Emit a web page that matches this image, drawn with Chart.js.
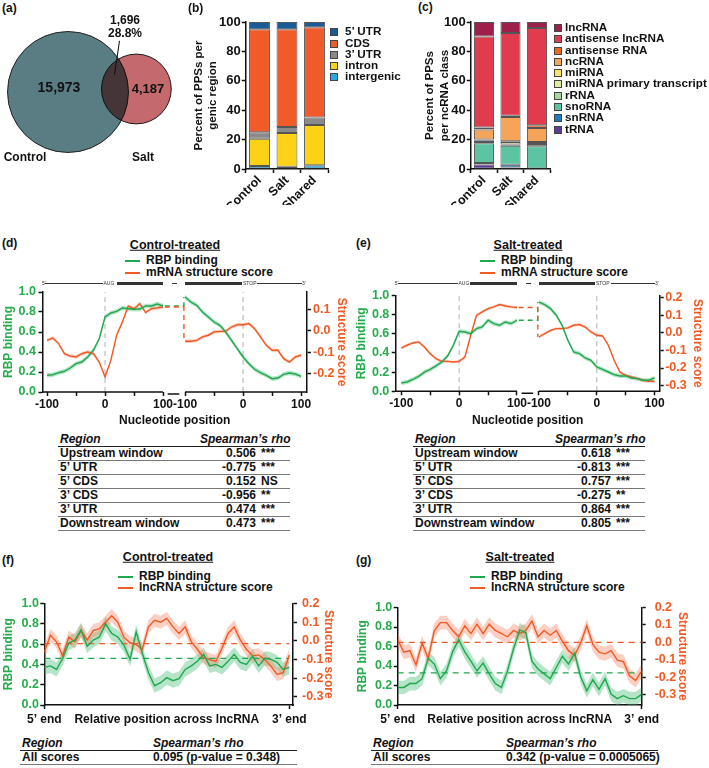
<!DOCTYPE html>
<html>

<head>
    <meta charset="UTF-8">
    <title>RBP binding and RNA structure</title>
    <style>
        body {
            margin: 0;
            background: #fff;
        }

        #page {
            position: relative;
            width: 709px;
            height: 768px;
            overflow: hidden;
            font-family: 'Liberation Sans', Arial, sans-serif;
            font-weight: bold;
            color: #111;
        }

        canvas {
            position: absolute;
        }

        .t {
            position: absolute;
            white-space: nowrap;
            line-height: 1;
        }

        .letter {
            font-size: 12px;
        }

        .ptitle {
            font-size: 12.5px;
            text-decoration: underline;
            transform: translate(-50%, -50%);
        }

        .leg {
            position: absolute;
            font-size: 12px;
            white-space: nowrap;
        }

        .leg i {
            display: inline-block;
            width: 15px;
            height: 2px;
            vertical-align: middle;
            margin-right: 6px;
        }

        .sq {
            position: absolute;
            font-size: 11.7px;
            white-space: nowrap;
        }

        .sq i {
            display: inline-block;
            width: 6px;
            height: 6px;
            vertical-align: middle;
            outline: 0.5px solid #444;
        }

        table.st {
            position: absolute;
            border-collapse: collapse;
            font-size: 12px;
            table-layout: fixed;
        }

        table.st th {
            font-style: italic;
            text-align: left;
            height: 13px;
            line-height: 13px;
            padding: 0 2px;
            border-bottom: 1.5px solid #222;
            white-space: nowrap;
        }

        table.st td {
            height: 13px;
            line-height: 13px;
            padding: 0 2px;
            border-bottom: 1px solid #777;
            white-space: nowrap;
        }

        .gene {
            position: absolute;
            background: #333;
        }

        .gtxt {
            position: absolute;
            font-size: 5px;
            line-height: 5px;
            font-weight: normal;
            color: #333;
        }
    </style>
</head>

<body>
    <div id="page">
        <!-- (a) -->
        <div class="t letter" style="left:2px; top:2px">(a)</div>
        <canvas id="venn" width="180" height="175" style="left:0; top:0"></canvas>
        <div class="t" id="vennCtrl" style="left:59px; top:87px; font-size:14px; transform:translate(-50%,-50%)"></div>
        <div class="t" id="vennSalt" style="left:148px; top:88px; font-size:13px; transform:translate(-50%,-50%)"></div>
        <div class="t" id="vennShared" style="left:125px; top:14px; font-size:12px; line-height:13px; text-align:center; transform:translateX(-50%)"></div>
        <div style="position:absolute; left:120px; top:41px; width:34px; height:1.4px; background:#111; transform-origin:0 0; transform:rotate(98.5deg)"></div>
        <div class="t" id="vennName0" style="left:25px; top:157px; font-size:12px; transform:translate(-50%,-50%)"></div>
        <div class="t" id="vennName1" style="left:143px; top:157px; font-size:12px; transform:translate(-50%,-50%)"></div>

        <!-- (b) -->
        <div class="t letter" style="left:188px; top:2px">(b)</div>
        <canvas id="barB" width="152" height="205" style="left:180px; top:0"></canvas>
        <div class="sq" id="legB" style="left:331px; top:25.4px; line-height:11.2px"></div>

        <!-- (c) -->
        <div class="t letter" style="left:418px; top:1px">(c)</div>
        <canvas id="barC" width="143" height="205" style="left:412px; top:0"></canvas>
        <div class="sq" id="legC" style="left:555px; top:21px; line-height:11.3px"></div>

        <!-- (d) -->
        <div class="t letter" style="left:2px; top:237px">(d)</div>
        <div class="t ptitle" style="left:175px; top:245px">Control-treated</div>
        <div class="leg" style="left:125px; top:254px; line-height:12px">
            <div><i style="background:#1fa84d"></i>RBP binding</div>
            <div><i style="background:#f15a24"></i>mRNA structure score</div>
        </div>
        <canvas id="metaD" width="355" height="152" style="left:0; top:280px"></canvas>

        <!-- (e) -->
        <div class="t letter" style="left:356px; top:237px">(e)</div>
        <div class="t ptitle" style="left:528px; top:245px">Salt-treated</div>
        <div class="leg" style="left:480px; top:254px; line-height:12px">
            <div><i style="background:#1fa84d"></i>RBP binding</div>
            <div><i style="background:#f15a24"></i>mRNA structure score</div>
        </div>
        <canvas id="metaE" width="354" height="152" style="left:355px; top:280px"></canvas>

        <table class="st" id="tabD" style="left:58px; top:433px; width:232px"></table>
        <table class="st" id="tabE" style="left:413px; top:433px; width:232px"></table>

        <!-- (f) -->
        <div class="t letter" style="left:2px; top:554px">(f)</div>
        <div class="t ptitle" style="left:168px; top:557px">Control-treated</div>
        <div class="leg" style="left:118px; top:571px; line-height:11px">
            <div><i style="background:#1fa84d"></i>RBP binding</div>
            <div><i style="background:#f15a24"></i>lncRNA structure score</div>
        </div>
        <canvas id="lncF" width="340" height="139" style="left:0; top:591px"></canvas>
        <table class="st" id="tabF" style="left:20px; top:737px; width:277px"></table>

        <!-- (g) -->
        <div class="t letter" style="left:356px; top:554px">(g)</div>
        <div class="t ptitle" style="left:520px; top:557px">Salt-treated</div>
        <div class="leg" style="left:470px; top:571px; line-height:11px">
            <div><i style="background:#1fa84d"></i>RBP binding</div>
            <div><i style="background:#f15a24"></i>lncRNA structure score</div>
        </div>
        <canvas id="lncG" width="340" height="139" style="left:355px; top:591px"></canvas>
        <table class="st" id="tabG" style="left:371px; top:737px; width:287px"></table>
    </div>

    <script src="https://cdn.jsdelivr.net/npm/chart.js"></script>
    <script>
        // (a) Venn counts
        const vennSets = ['Control', 'Salt'];
        const vennUnique = [15973, 4187];
        const vennShared = 1696;
        const vennSharedPct = '28.8%';

        // (b) PPSs per genic region (percent)
        const groups = ['Control', 'Salt', 'Shared'];
        const utr5 = [5, 5, 3.5];
        const cds = [70, 66.5, 61.5];
        const utr3 = [4.5, 4, 5];
        const intron = [18.5, 23, 27.5];
        const intergenic = [2, 1.5, 2.5];

        // (c) PPSs per ncRNA class (percent)
        const lncRNA = [9.8, 7.5, 4.1];
        const antisenseLnc = [61.9, 56.2, 66.2];
        const antisenseRNA = [1.5, 0.9, 1.8];
        const ncRNA = [6.8, 16.6, 9.5];
        const miRNA = [0.7, 0.5, 0.7];
        const miRNAprimary = [1.0, 1.7, 0.7];
        const rRNA = [0.8, 0.7, 1.6];
        const snoRNA = [13.5, 13.0, 15.4];
        const snRNA = [1.0, 1.8, 0];
        const tRNA = [3.0, 1.1, 0];

        // (d)(e) metagene around start codon / stop codon
        const nt = [-100, -90, -80, -70, -60, -50, -40, -30, -20, -10, 0, 10, 20, 30, 40, 50, 60, 70, 80, 90, 100];
        const ctrlRbpStart = [0.167, 0.173, 0.193, 0.207, 0.24, 0.283, 0.30, 0.35, 0.417, 0.533, 0.75, 0.79, 0.807, 0.84, 0.833, 0.827, 0.83, 0.86, 0.86, 0.88, 0.86];
        const ctrlStructStart = [-0.045, -0.034, -0.06, -0.107, -0.118, -0.122, -0.107, -0.099, -0.107, -0.146, -0.215, -0.138, -0.021, 0.041, 0.115, 0.102, 0.126, 0.084, 0.102, 0.106, 0.11];
        const ctrlRbpStop = [0.95, 0.90, 0.867, 0.80, 0.75, 0.70, 0.667, 0.60, 0.517, 0.433, 0.35, 0.283, 0.227, 0.193, 0.167, 0.133, 0.14, 0.177, 0.19, 0.18, 0.157];
        const ctrlStructStop = [-0.049, -0.049, -0.045, -0.029, -0.021, -0.006, -0.003, -0.003, 0.017, 0.028, 0.028, 0.033, 0.009, -0.029, -0.068, -0.091, -0.091, -0.13, -0.146, -0.122, -0.114];
        const saltRbpStart = [0.087, 0.097, 0.125, 0.156, 0.20, 0.229, 0.264, 0.306, 0.368, 0.479, 0.625, 0.618, 0.60, 0.653, 0.67, 0.74, 0.705, 0.688, 0.722, 0.705, 0.74];
        const saltStructStart = [-0.086, -0.07, -0.057, -0.051, -0.08, -0.118, -0.147, -0.162, -0.162, -0.166, -0.162, -0.137, -0.013, 0.10, 0.12, 0.139, 0.149, 0.162, 0.154, 0.149, 0.145];
        const saltRbpStop = [0.93, 0.903, 0.861, 0.792, 0.688, 0.531, 0.41, 0.392, 0.347, 0.323, 0.253, 0.229, 0.201, 0.174, 0.16, 0.16, 0.139, 0.132, 0.115, 0.115, 0.139];
        const saltStructStop = [-0.023, -0.004, 0.015, 0.025, 0.025, 0.029, 0.044, 0.048, 0.034, 0.006, -0.013, -0.017, -0.07, -0.156, -0.223, -0.242, -0.251, -0.261, -0.27, -0.276, -0.276];

        // (f)(g) lncRNA profiles along relative position
        const lncPos = [0, 0.025, 0.05, 0.075, 0.1, 0.125, 0.15, 0.175, 0.2, 0.225, 0.25, 0.275, 0.3, 0.325, 0.35, 0.375, 0.4, 0.425, 0.45, 0.475, 0.5,
            0.525, 0.55, 0.575, 0.6, 0.625, 0.65, 0.675, 0.7, 0.725, 0.75, 0.775, 0.8, 0.825, 0.85, 0.875, 0.9, 0.925, 0.95, 0.975, 1];
        const ctrlLncRbp = [0.37, 0.385, 0.35, 0.46, 0.61, 0.64, 0.74, 0.58, 0.64, 0.67, 0.80, 0.705, 0.67, 0.59, 0.45, 0.72, 0.51, 0.32, 0.19, 0.22, 0.27,
            0.24, 0.26, 0.35, 0.385, 0.43, 0.50, 0.385, 0.40, 0.37, 0.43, 0.50, 0.42, 0.40, 0.48, 0.385, 0.46, 0.45, 0.42, 0.35, 0.37];
        const ctrlLncStruct = [-0.06, 0.03, -0.005, -0.08, 0.02, -0.005, 0.055, 0.005, 0.055, 0.065, 0.10, 0.135, 0.10, 0.02, -0.01, -0.02, -0.045, 0.075, 0.11, 0.10, 0.12,
            0.075, 0.04, 0.075, -0.005, -0.045, -0.09, -0.10, -0.11, -0.04, 0.04, 0.075, 0.005, -0.045, -0.08, -0.075, -0.10, -0.135, -0.18, -0.17, -0.075];
        const saltLncRbp = [0.18, 0.18, 0.22, 0.22, 0.27, 0.48, 0.42, 0.27, 0.35, 0.545, 0.67, 0.545, 0.45, 0.35, 0.43, 0.32, 0.22, 0.18, 0.35, 0.58, 0.77,
            0.74, 0.45, 0.37, 0.32, 0.27, 0.385, 0.50, 0.42, 0.53, 0.29, 0.145, 0.26, 0.16, 0.27, 0.11, 0.065, 0.095, 0.065, 0.065, 0.11];
        const saltLncStruct = [0.015, -0.057, -0.048, -0.13, -0.004, -0.093, 0.068, 0.113, 0.113, 0.068, 0.032, 0.095, 0.05, 0.104, 0.05, 0.104, 0.068, 0.05, 0.032, 0.068, 0.05,
            0.068, 0.122, 0.032, 0.068, 0.041, 0.068, 0.005, -0.048, -0.075, -0.004, 0.095, -0.013, -0.057, -0.066, -0.048, -0.102, -0.111, -0.192, -0.219, -0.165];
        const lncRbpMean = [0.46, 0.33];
        const lncStructMean = [-0.015, 0.0];
        const lncTicks = ['5’ end', 'Relative position across lncRNA', '3’ end'];

        // correlation tables
        const tableRegions = ['Upstream window', '5’ UTR', '5’ CDS', '3’ CDS', '3’ UTR', 'Downstream window'];
        const rhoCtrl = [0.506, -0.775, 0.152, -0.956, 0.474, 0.473];
        const sigCtrl = ['***', '***', 'NS', '**', '***', '***'];
        const rhoSalt = [0.618, -0.813, 0.757, -0.275, 0.864, 0.805];
        const sigSalt = ['***', '***', '***', '**', '***', '***'];
        const lncRho = [0.095, 0.342];
        const lncP = ['0.348', '0.0005065'];

        const G = '#1fa84d', GT = '#25ad4c', O = '#f15a24';
        const gBand = 'rgba(60,185,110,0.38)', oBand = 'rgba(246,130,95,0.38)';

        Chart.defaults.font.family = "'Liberation Sans', Arial, sans-serif";
        Chart.defaults.font.weight = 'bold';
        Chart.defaults.color = '#111';

        const fmt1 = v => (Math.round(v * 10) / 10 + 0).toFixed(1);
        const axisLine = { color: '#111', width: 1.5 };
        const tickGrid = { drawOnChartArea: false, tickLength: 4, tickWidth: 1.5, tickColor: '#111' };

        // ---------- (a) Venn as two bubbles ----------
        const rK = 0.455;
        const rCtrl = rK * Math.sqrt(vennUnique[0] + vennShared);
        const rSalt = rK * Math.sqrt(vennUnique[1] + vennShared);
        // bubble charts pad the plot by the largest radius (+ border); undo that so values are canvas pixels
        const vennPad = rCtrl + 1;
        const multiplyOverlap = {
            id: 'multiplyOverlap',
            beforeDatasetDraw(chart, args) {
                if (args.index === 1) { chart.ctx.save(); chart.ctx.globalCompositeOperation = 'multiply'; }
            },
            afterDatasetDraw(chart, args) {
                if (args.index === 1) chart.ctx.restore();
            }
        };
        new Chart(document.getElementById('venn'), {
            type: 'bubble',
            data: {
                datasets: [
                    { label: vennSets[0], data: [{ x: 68, y: 92, r: rCtrl }], backgroundColor: '#5a7c83', borderColor: '#222', borderWidth: 1, hoverRadius: 0, order: 2, clip: false },
                    { label: vennSets[1], data: [{ x: 68 + rCtrl + rSalt - 27, y: 89, r: rSalt }], backgroundColor: '#c46a6c', borderColor: '#222', borderWidth: 1, hoverRadius: 0, order: 1, clip: false }
                ]
            },
            options: {
                responsive: false, animation: false, events: [],
                layout: { padding: 0 },
                plugins: { legend: { display: false }, tooltip: { enabled: false } },
                scales: {
                    x: { display: false, min: vennPad, max: 180 - vennPad },
                    y: { display: false, min: vennPad, max: 175 - vennPad, reverse: true }
                }
            },
            plugins: [multiplyOverlap]
        });
        document.getElementById('vennCtrl').textContent = vennUnique[0].toLocaleString('en-US');
        document.getElementById('vennSalt').textContent = vennUnique[1].toLocaleString('en-US');
        document.getElementById('vennShared').innerHTML = vennShared.toLocaleString('en-US') + '<br>' + vennSharedPct;
        document.getElementById('vennName0').textContent = vennSets[0];
        document.getElementById('vennName1').textContent = vennSets[1];

        // ---------- (b)(c) stacked bars ----------
        function stackedOptions(yTitle, leftW, padRight, titlePad) {
            return {
                responsive: false, animation: false, events: [],
                layout: { padding: { top: 22, right: padRight, left: 0, bottom: 0 } },
                datasets: { bar: { categoryPercentage: 1, barPercentage: 0.76, borderColor: '#555', borderWidth: 1, borderSkipped: false } },
                plugins: { legend: { display: false }, tooltip: { enabled: false } },
                scales: {
                    x: {
                        stacked: true, border: axisLine,
                        grid: Object.assign({ offset: true }, tickGrid),
                        ticks: { minRotation: 45, maxRotation: 45, padding: 0, font: { size: 12.5, weight: 'bold' } },
                        afterFit: s => { s.height = 36; }
                    },
                    y: {
                        stacked: true, min: 0, max: 100, border: axisLine, grid: tickGrid,
                        ticks: { stepSize: 20, padding: 1, font: { size: 13, weight: 'bold' } },
                        title: { display: true, text: yTitle, font: { size: 11.5, weight: 'bold', lineHeight: 1.25 }, padding: { top: titlePad, bottom: 0 } },
                        afterFit: s => { s.width = leftW; }
                    }
                }
            };
        }

        const regionSets = [
            ['5’ UTR', utr5, '#1b5b98'],
            ['CDS', cds, '#f15a29'],
            ['3’ UTR', utr3, '#8a8a8a'],
            ['intron', intron, '#fcd116'],
            ['intergenic', intergenic, '#27aae1']
        ];
        new Chart(document.getElementById('barB'), {
            type: 'bar',
            data: {
                labels: groups,
                datasets: regionSets.slice().reverse().map(([label, data, color]) => ({ label, data, backgroundColor: color }))
            },
            options: stackedOptions(['Percent of PPSs per', 'genic region'], 65.75, 3.75, 11.5)
        });

        const ncSets = [
            ['lncRNA', lncRNA, '#9e1f4a'],
            ['antisense lncRNA', antisenseLnc, '#e03c4d'],
            ['antisense RNA', antisenseRNA, '#f26522'],
            ['ncRNA', ncRNA, '#f7a45b'],
            ['miRNA', miRNA, '#fde36b'],
            ['miRNA primary transcript', miRNAprimary, '#e3eaa0'],
            ['rRNA', rRNA, '#a7d59b'],
            ['snoRNA', snoRNA, '#5cc4a2'],
            ['snRNA', snRNA, '#1d7ac8'],
            ['tRNA', tRNA, '#5d3c9c']
        ];
        new Chart(document.getElementById('barC'), {
            type: 'bar',
            data: {
                labels: groups,
                datasets: ncSets.slice().reverse().map(([label, data, color]) => ({ label, data, backgroundColor: color }))
            },
            options: stackedOptions(['Percent of PPSs', 'per ncRNA class'], 58.75, 4.75, 10.8)
        });

        function squareLegend(id, sets, gap) {
            document.getElementById(id).innerHTML = sets.map(([label, , color]) =>
                `<div><i style="background:${color}; margin-right:${gap}px"></i>${label}</div>`).join('');
        }
        squareLegend('legB', regionSets, 8);
        squareLegend('legC', ncSets, 4);

        // ---------- shared line helpers ----------
        function pts(xs, ys, dx, d) {
            return xs.map((x, i) => ({ x: x + dx, y: ys[i] + d }));
        }
        function lineDs(data, color, axis, extra) {
            return Object.assign({ data, borderColor: color, backgroundColor: color, borderWidth: 1.4, pointRadius: 0, yAxisID: axis, fill: false }, extra || {});
        }
        function bandDs(xs, ys, dx, err, color, axis) {
            return [
                lineDs(pts(xs, ys, dx, err), 'rgba(0,0,0,0)', axis, { fill: '+1', backgroundColor: color, borderWidth: 0, order: 5 }),
                lineDs(pts(xs, ys, dx, -err), 'rgba(0,0,0,0)', axis, { borderWidth: 0, order: 5 })
            ];
        }
        function yAxis(pos, min, max, step, color, title, c) {
            return {
                position: pos, min, max, border: axisLine, grid: tickGrid,
                ticks: { stepSize: step, includeBounds: false, color, padding: c.tickPad, font: { size: 12.5, weight: 'bold' }, callback: v => fmt1(v) },
                title: { display: true, text: title, color, font: { size: 12, weight: 'bold', lineHeight: 1 }, padding: { top: c.titlePad, bottom: 0 } },
                afterFit: s => { s.width = c.width; }
            };
        }

        // ---------- (d)(e) metagene ----------
        const SHIFT = 238;
        const metaTickVals = [-100, -50, 0, 50, 100, SHIFT - 100, SHIFT - 50, SHIFT, SHIFT + 50, SHIFT + 100];
        const metaTickText = { '-100': '-100', '0': '0', '100': '100' };
        metaTickText[SHIFT - 100] = '-100';
        metaTickText[SHIFT] = '0';
        metaTickText[SHIFT + 100] = '100';

        const axisBreak = {
            id: 'axisBreak',
            afterDraw(chart) {
                const x = chart.scales.x, a = chart.chartArea, ctx = chart.ctx;
                ctx.save();
                ctx.strokeStyle = '#111';
                ctx.lineWidth = 1.5;
                ctx.beginPath();
                ctx.moveTo(a.left, a.bottom);
                ctx.lineTo(x.getPixelForValue(100), a.bottom);
                ctx.moveTo(x.getPixelForValue(SHIFT - 100), a.bottom);
                ctx.lineTo(a.right, a.bottom);
                ctx.moveTo(x.getPixelForValue(108), a.bottom + 2);
                ctx.lineTo(x.getPixelForValue(128), a.bottom + 2);
                ctx.stroke();
                ctx.restore();
            }
        };

        function metaChart(id, rbpA, rbpB, stA, stB, c) {
            const join = SHIFT - 102;
            const datasets = [
                ...bandDs(nt, stA, 0, c.stErr, oBand, 'ys'),
                ...bandDs(nt, stB, SHIFT, c.stErr, oBand, 'ys'),
                ...bandDs(nt, rbpA, 0, c.rbpErr, gBand, 'y'),
                ...bandDs(nt, rbpB, SHIFT, c.rbpErr, gBand, 'y'),
                lineDs(pts(nt, stA, 0, 0), O, 'ys', { order: 3 }),
                lineDs(pts(nt, stB, SHIFT, 0), O, 'ys', { order: 3 }),
                lineDs(pts(nt, rbpA, 0, 0), G, 'y', { order: 1 }),
                lineDs(pts(nt, rbpB, SHIFT, 0), G, 'y', { order: 1 }),
                lineDs([{ x: 103, y: stA[20] }, { x: join, y: stA[20] }, { x: join, y: stB[0] }], O, 'ys', { borderDash: [5, 4], order: 2 }),
                lineDs([{ x: 103, y: rbpA[20] }, { x: join, y: rbpA[20] }, { x: join, y: rbpB[0] }], G, 'y', { borderDash: [5, 4], order: 2 }),
                lineDs([{ x: 0, y: 0 }, { x: 0, y: 1 }], '#bdbdbd', 'y', { borderDash: [5, 4], borderWidth: 1.2, order: 6 }),
                lineDs([{ x: SHIFT, y: 0 }, { x: SHIFT, y: 1 }], '#bdbdbd', 'y', { borderDash: [5, 4], borderWidth: 1.2, order: 6 })
            ];
            new Chart(document.getElementById(id), {
                type: 'line',
                data: { datasets },
                options: {
                    responsive: false, animation: false, events: [],
                    layout: { padding: { top: c.padTop, right: 0, left: 0, bottom: 0 } },
                    plugins: { legend: { display: false }, tooltip: { enabled: false } },
                    scales: {
                        x: {
                            type: 'linear', min: c.xMin, max: c.xMax,
                            border: { display: false }, grid: tickGrid,
                            afterBuildTicks: s => { s.ticks = metaTickVals.map(v => ({ value: v })); },
                            ticks: { autoSkip: false, maxRotation: 0, padding: 1, font: { size: 12, weight: 'bold' }, callback: v => metaTickText[v] || '' },
                            title: { display: true, text: 'Nucleotide position', font: { size: 12, weight: 'bold' }, padding: { top: 0, bottom: c.xTitlePad } },
                            afterFit: s => { s.height = c.xH; }
                        },
                        y: yAxis('left', 0, 1, 0.2, GT, 'RBP binding', c.left),
                        ys: yAxis('right', c.sMin, c.sMax, 0.1, O, 'Structure score', c.right)
                    }
                },
                plugins: [axisBreak]
            });
        }

        metaChart('metaD', ctrlRbpStart, ctrlRbpStop, ctrlStructStart, ctrlStructStop, {
            padTop: 12, xMin: -107.8, xMax: 348.2, xH: 40, xTitlePad: 4, sMin: -0.285, sMax: 0.18,
            rbpErr: 0.022, stErr: 0.008,
            left: { width: 42.5, tickPad: 2.5, titlePad: 3 },
            right: { width: 48, tickPad: 2, titlePad: 8 }
        });
        metaChart('metaE', saltRbpStart, saltRbpStop, saltStructStart, saltStructStop, {
            padTop: 15.3, xMin: -109.7, xMax: 346.8, xH: 40.7, xTitlePad: 4, sMin: -0.333, sMax: 0.215,
            rbpErr: 0.022, stErr: 0.008,
            left: { width: 40.7, tickPad: 2.4, titlePad: 1 },
            right: { width: 49.3, tickPad: 1.5, titlePad: 5.5 }
        });

        // gene model above (d) and (e)
        function geneDiagram(p) {
            const host = document.getElementById('page');
            const add = (cls, l, r, h, text) => {
                const d = document.createElement('div');
                d.className = cls;
                d.style.left = l + 'px';
                if (text) {
                    d.textContent = text;
                    d.style.top = (p.y - 2.5) + 'px';
                } else {
                    d.style.width = (r - l) + 'px';
                    d.style.height = h + 'px';
                    d.style.top = (p.y - h / 2) + 'px';
                }
                host.appendChild(d);
            };
            add('gtxt', p.five, 0, 0, '5’');
            add('gene', p.thin1[0], p.thin1[1], 1);
            add('gtxt', p.aug, 0, 0, 'AUG');
            add('gene', p.cds1[0], p.cds1[1], 3.5);
            add('gene', p.dash[0], p.dash[1], 1);
            add('gene', p.cds2[0], p.cds2[1], 3.5);
            add('gtxt', p.stop, 0, 0, 'STOP');
            add('gene', p.thin2[0], p.thin2[1], 1);
            add('gtxt', p.three, 0, 0, '3’');
        }
        geneDiagram({ y: 283.5, five: 42, thin1: [45, 103], aug: 103.5, cds1: [116.7, 162.7], dash: [171.7, 176.7], cds2: [185, 241.7], stop: 243, thin2: [256.7, 301.7], three: 302 });
        geneDiagram({ y: 283.5, five: 394.7, thin1: [398, 458], aug: 458.5, cds1: [470, 517], dash: [526, 531], cds2: [538.7, 594.7], stop: 596, thin2: [611, 654.7], three: 655 });

        // ---------- (f)(g) lncRNA ----------
        function lncChart(id, rbp, st, k, c) {
            const datasets = [
                ...bandDs(lncPos, st, 0, c.stErr, oBand, 'ys'),
                ...bandDs(lncPos, rbp, 0, c.rbpErr, gBand, 'y'),
                lineDs(pts(lncPos, st, 0, 0), O, 'ys', { order: 3 }),
                lineDs(pts(lncPos, rbp, 0, 0), G, 'y', { order: 1 }),
                lineDs([{ x: 0, y: lncStructMean[k] }, { x: 1, y: lncStructMean[k] }], O, 'ys', { borderDash: [6, 5], borderWidth: 1.2, order: 4 }),
                lineDs([{ x: 0, y: lncRbpMean[k] }, { x: 1, y: lncRbpMean[k] }], G, 'y', { borderDash: [6, 5], borderWidth: 1.2, order: 4 })
            ];
            new Chart(document.getElementById(id), {
                type: 'line',
                data: { datasets },
                options: {
                    responsive: false, animation: false, events: [],
                    layout: { padding: { top: 10, right: 0, left: 0, bottom: 0 } },
                    plugins: { legend: { display: false }, tooltip: { enabled: false } },
                    scales: {
                        x: {
                            type: 'linear', min: 0, max: c.xMax, border: axisLine,
                            grid: Object.assign({}, tickGrid, { tickColor: ctx => (ctx.tick && ctx.tick.value === 0.5) ? 'rgba(0,0,0,0)' : '#111' }),
                            afterBuildTicks: s => { s.ticks = [0, 0.5, 1].map(v => ({ value: v })); },
                            ticks: { autoSkip: false, maxRotation: 0, padding: 3, font: { size: 12, weight: 'bold' }, callback: (v, i) => lncTicks[i] },
                            afterFit: s => { s.height = 25; }
                        },
                        y: yAxis('left', 0, 1, 0.2, GT, 'RBP binding', c.left),
                        ys: yAxis('right', c.sMin, c.sMax, 0.1, O, 'Structure score', c.right)
                    }
                }
            });
        }
        lncChart('lncF', ctrlLncRbp, ctrlLncStruct, 0, {
            xMax: 1.015, sMin: -0.343, sMax: 0.2, rbpErr: 0.07, stErr: 0.035,
            left: { width: 44.3, tickPad: 1.3, titlePad: 2.3 },
            right: { width: 47, tickPad: 5, titlePad: 6 }
        });
        lncChart('lncG', saltLncRbp, saltLncStruct, 1, {
            xMax: 1, sMin: -0.36, sMax: 0.2, rbpErr: 0.07, stErr: 0.04,
            left: { width: 42.7, tickPad: 1.4, titlePad: 1.5 },
            right: { width: 53.3, tickPad: 9, titlePad: 7 }
        });

        // ---------- tables ----------
        function metaTable(id, rho, sig) {
            let html = '<colgroup><col style="width:140px"><col style="width:60px"><col style="width:32px"></colgroup>';
            html += '<tr><th>Region</th><th colspan="2" style="text-align:right">Spearman’s rho</th></tr>';
            tableRegions.forEach((r, i) => {
                html += `<tr><td>${r}</td><td style="text-align:right">${rho[i].toFixed(3)}</td><td style="padding-left:3px">${sig[i]}</td></tr>`;
            });
            document.getElementById(id).innerHTML = html;
        }
        metaTable('tabD', rhoCtrl, sigCtrl);
        metaTable('tabE', rhoSalt, sigSalt);

        function lncTable(id, k, w1) {
            document.getElementById(id).innerHTML =
                `<colgroup><col style="width:${w1}px"><col></colgroup>` +
                '<tr><th>Region</th><th>Spearman’s rho</th></tr>' +
                `<tr><td>All scores</td><td>${lncRho[k].toFixed(3)} (p-value = ${lncP[k]})</td></tr>`;
        }
        lncTable('tabF', 0, 131);
        lncTable('tabG', 1, 133);
    </script>
</body>

</html>
